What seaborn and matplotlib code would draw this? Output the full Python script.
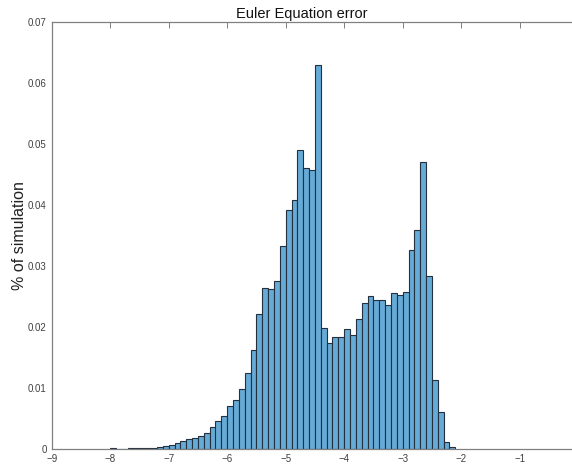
import numpy as np
import pandas as pd
import matplotlib
matplotlib.use("Agg")
import matplotlib.pyplot as plt
import seaborn as sns

# Bin left edges of the Euler equation error histogram (log10 units), bin width 0.1
bin_left = [-8.0, -7.9, -7.8, -7.7, -7.6, -7.5, -7.4, -7.3, -7.2, -7.1,
            -7.0, -6.9, -6.8, -6.7, -6.6, -6.5, -6.4, -6.3, -6.2, -6.1,
            -6.0, -5.9, -5.8, -5.7, -5.6, -5.5, -5.4, -5.3, -5.2, -5.1,
            -5.0, -4.9, -4.8, -4.7, -4.6, -4.5, -4.4, -4.3, -4.2, -4.1,
            -4.0, -3.9, -3.8, -3.7, -3.6, -3.5, -3.4, -3.3, -3.2, -3.1,
            -3.0, -2.9, -2.8, -2.7, -2.6, -2.5, -2.4, -2.3, -2.2]
bin_width = 0.1

# Share of simulations falling in each bin
share = [0.0001, 0.0, 0.0, 0.0001, 0.0001, 0.0001, 0.00015, 0.0002, 0.0003, 0.00044,
         0.0007, 0.00093, 0.00126, 0.00164, 0.0018, 0.0021, 0.00257, 0.00366, 0.00464, 0.00546,
         0.00705, 0.00809, 0.00984, 0.0124, 0.0163, 0.0221, 0.0264, 0.0262, 0.0275, 0.0333,
         0.0391, 0.0409, 0.0490, 0.0460, 0.0457, 0.0629, 0.0198, 0.0173, 0.0183, 0.0183,
         0.0197, 0.0187, 0.0213, 0.0239, 0.0250, 0.0245, 0.0244, 0.0236, 0.0255, 0.0252,
         0.0257, 0.0326, 0.0359, 0.0470, 0.0284, 0.0113, 0.0061, 0.0012, 0.0004]

x_ticks = [-9, -8, -7, -6, -5, -4, -3, -2, -1]
y_ticks = [0, 0.01, 0.02, 0.03, 0.04, 0.05, 0.06, 0.07]

df = pd.DataFrame({"left": bin_left, "share": share})
df["center"] = df["left"] + bin_width / 2
edges = list(df["left"]) + [df["left"].iloc[-1] + bin_width]

sns.set_style("white")
plt.rcParams["font.family"] = ["Liberation Sans", "DejaVu Sans"]

fig = plt.figure(figsize=(5.72, 4.70), dpi=100)
ax = fig.add_axes([51.7 / 572, 21 / 470, 526.5 / 572, 427 / 470])

sns.histplot(data=df, x="center", weights="share", bins=edges, ax=ax,
             stat="count", color="#66aad7", alpha=1.0,
             edgecolor="#22313d", linewidth=0.8)

ax.set_xlim(-9, 0)
ax.set_ylim(0, 0.07)
ax.set_xticks(x_ticks)
ax.set_yticks(y_ticks)
ax.set_yticklabels(["%g" % t for t in y_ticks])
ax.tick_params(direction="in", length=4, width=0.7, colors="#808080",
               labelcolor="#404040", labelsize=7, top=True, right=True)
for s in ax.spines.values():
    s.set_color("#808080")
    s.set_linewidth(0.9)

ax.set_xlabel("")
ax.set_ylabel("% of simulation", fontsize=11.5, color="#222222")
ax.yaxis.set_label_coords(-0.047, 0.5)
ax.set_title("Euler Equation error", fontsize=10.5, color="#111111", x=0.475, pad=3)

fig.savefig("out.png", dpi=100)
